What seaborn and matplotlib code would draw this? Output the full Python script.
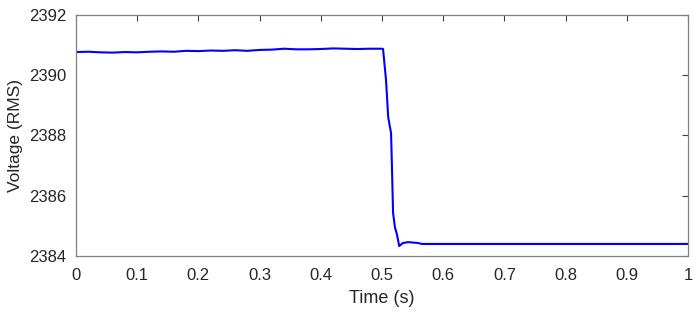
import numpy as np
import pandas as pd
import matplotlib
matplotlib.use('Agg')
import matplotlib.pyplot as plt
import seaborn as sns

# Time samples (s) and RMS voltage
time_s = [0.00, 0.02, 0.04, 0.06, 0.08, 0.10, 0.12, 0.14, 0.16, 0.18,
          0.20, 0.22, 0.24, 0.26, 0.28, 0.30, 0.32, 0.34, 0.36, 0.38,
          0.40, 0.42, 0.44, 0.46, 0.48, 0.50, 0.5016,
          0.5065, 0.510, 0.5147, 0.5163, 0.518, 0.521, 0.5245, 0.528,
          0.534, 0.5425, 0.559, 0.565, 0.60, 0.70, 0.80, 0.90, 1.00]
voltage = [2390.77, 2390.78, 2390.76, 2390.75, 2390.77, 2390.76, 2390.78, 2390.79, 2390.78, 2390.81,
           2390.80, 2390.82, 2390.81, 2390.83, 2390.81, 2390.84, 2390.85, 2390.88, 2390.86, 2390.86,
           2390.87, 2390.89, 2390.88, 2390.87, 2390.88, 2390.88, 2390.87,
           2389.84, 2388.61, 2388.08, 2386.85, 2385.43, 2384.96, 2384.70, 2384.33,
           2384.43, 2384.46, 2384.43, 2384.40, 2384.40, 2384.40, 2384.40, 2384.40, 2384.40]

x_ticks = [0, 0.1, 0.2, 0.3, 0.4, 0.5, 0.6, 0.7, 0.8, 0.9, 1]
x_tick_labels = ['0', '0.1', '0.2', '0.3', '0.4', '0.5', '0.6', '0.7', '0.8', '0.9', '1']
y_ticks = [2384, 2386, 2388, 2390, 2392]

sns.set_style('white')
plt.rcParams['font.family'] = ['Liberation Sans', 'DejaVu Sans']

df = pd.DataFrame({'Time (s)': time_s, 'Voltage (RMS)': voltage})

fig = plt.figure(figsize=(7, 3.12), dpi=100)
ax = fig.add_axes([0.1086, 0.1795, 0.8744, 0.7725])
sns.lineplot(data=df, x='Time (s)', y='Voltage (RMS)', ax=ax,
             color='#0000ff', linewidth=1.5)

ax.set_xlim(0, 1)
ax.set_ylim(2384, 2392)
ax.set_xticks(x_ticks)
ax.set_xticklabels(x_tick_labels)
ax.set_yticks(y_ticks)

axis_grey = '#262626'
for side in ['left', 'right', 'top', 'bottom']:
    ax.spines[side].set_visible(True)
    ax.spines[side].set_color('#808080')
    ax.spines[side].set_linewidth(0.9)
ax.tick_params(direction='in', length=4, width=0.8, color='#404040',
               top=True, right=True, labelsize=12, labelcolor=axis_grey)
ax.tick_params(axis='x', pad=9)
ax.tick_params(axis='y', pad=7)
ax.set_xlabel('Time (s)', fontsize=13, color=axis_grey, labelpad=5)
ax.set_ylabel('Voltage (RMS)', fontsize=12.5, color=axis_grey, labelpad=4)

fig.savefig('out.png', dpi=100)
